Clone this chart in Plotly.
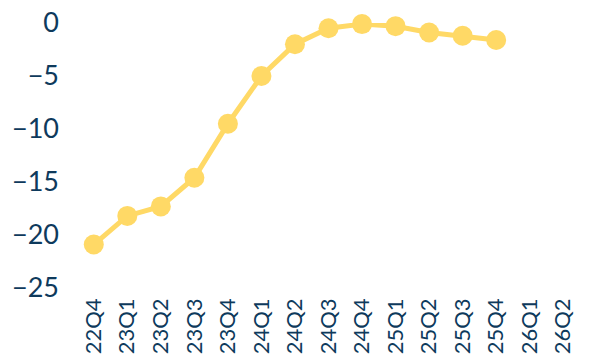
import plotly.graph_objects as go

categories = ["22Q4", "23Q1", "23Q2", "23Q3", "23Q4", "24Q1", "24Q2", "24Q3",
              "24Q4", "25Q1", "25Q2", "25Q3", "25Q4", "26Q1", "26Q2"]
values = [-20.9, -18.2, -17.3, -14.6, -9.5, -5.0, -2.0, -0.5,
          -0.1, -0.3, -0.9, -1.2, -1.6]
y_ticks = [0, -5, -10, -15, -20, -25]

navy = "#0e3a5c"
yellow = "#FFD966"

fig = go.Figure()
fig.add_trace(go.Scatter(
    x=categories[:len(values)], y=values, mode="lines+markers",
    line=dict(color=yellow, width=5),
    marker=dict(color=yellow, size=20),
    cliponaxis=False, hoverinfo="skip", showlegend=False,
))
fig.update_layout(
    width=590, height=361,
    margin=dict(l=77, r=10, t=23, b=73),
    paper_bgcolor="white", plot_bgcolor="white",
    font=dict(family="Lato", color=navy),
    xaxis=dict(type="category", categoryorder="array", categoryarray=categories,
               range=[-0.5, len(categories) - 0.5], showgrid=False, zeroline=False,
               showline=False, tickangle=-90, tickfont=dict(size=22, color=navy),
               ticks="", ticklabelstandoff=5, automargin=False),
    yaxis=dict(range=[-25, 0], tickvals=y_ticks, showgrid=False, zeroline=False,
               showline=False, tickfont=dict(size=27, color=navy), ticks="",
               ticklabelstandoff=17, automargin=False),
)
fig.write_html("out.html")
